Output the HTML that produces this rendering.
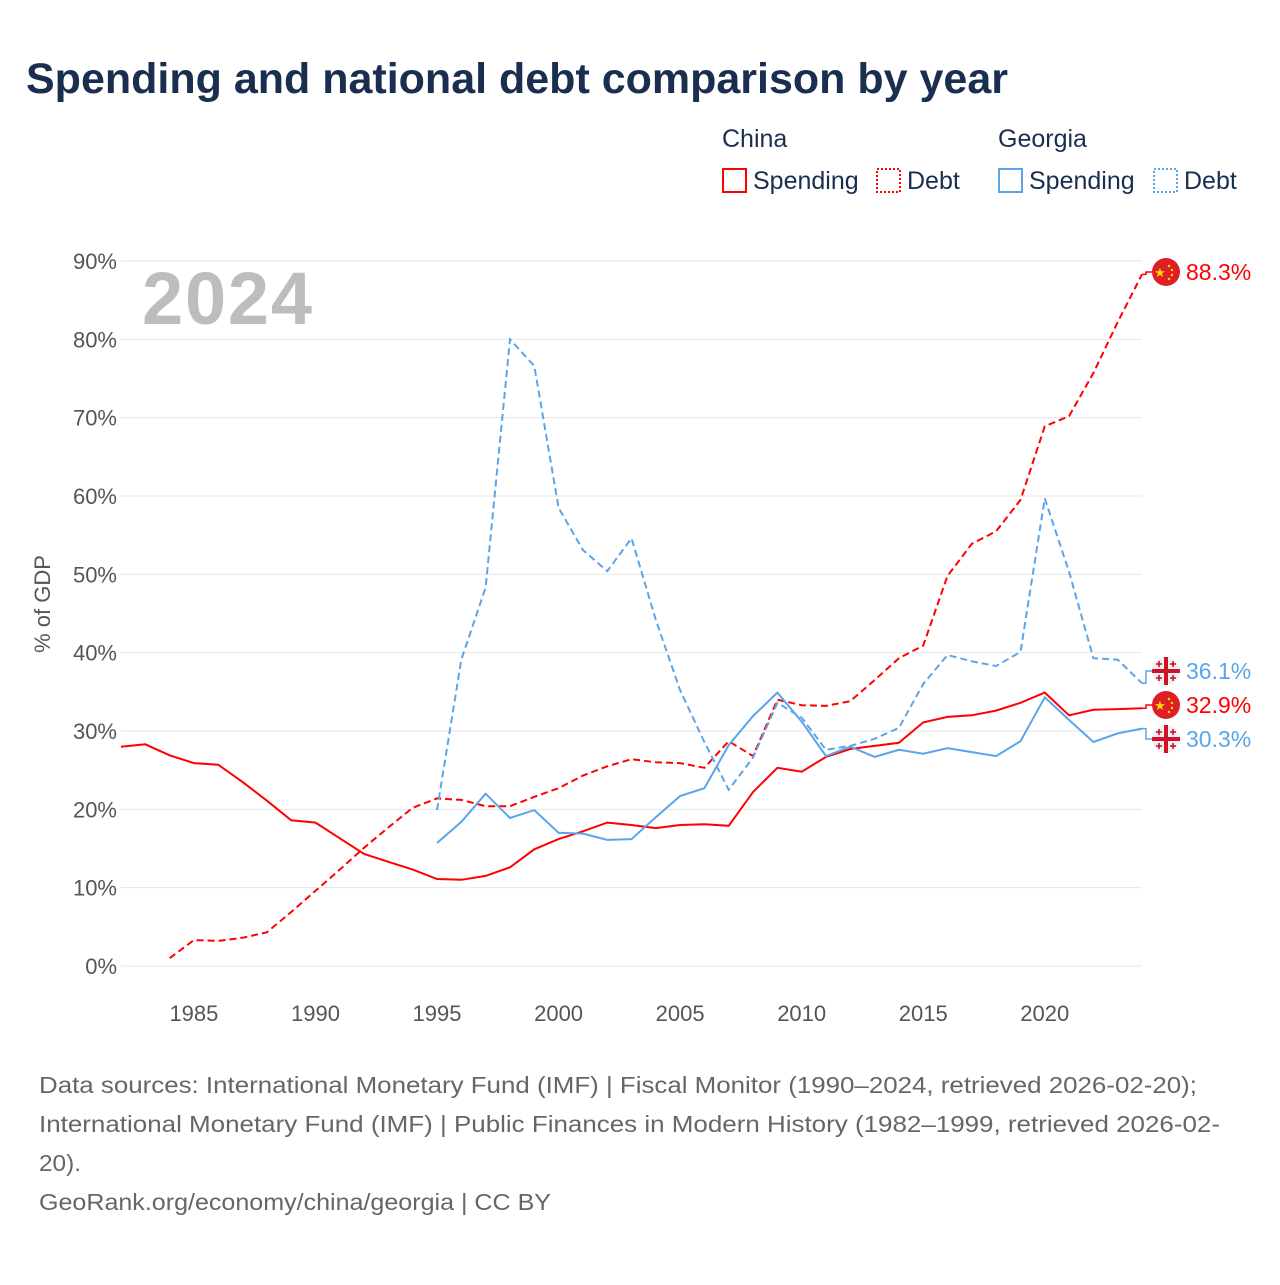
<!DOCTYPE html>
<html><head><meta charset="utf-8"><style>
body{margin:0;background:#fff;font-family:"Liberation Sans",sans-serif;}
svg text{font-family:"Liberation Sans",sans-serif;}
</style></head><body>
<svg id="chart" width="1280" height="1280" viewBox="0 0 1280 1280" xmlns="http://www.w3.org/2000/svg">
<text x="26" y="93" font-size="43" font-weight="bold" fill="#1a2e4f">Spending and national debt comparison by year</text>
<g font-size="25" fill="#1a2e4f">
<text x="722" y="147">China</text>
<text x="998" y="147">Georgia</text>
<g><rect x="723" y="169" width="23" height="23" fill="none" stroke="#ff0000" stroke-width="2"/><text x="753" y="189">Spending</text></g>
<g><rect x="877" y="169" width="23" height="23" fill="none" stroke="#ff0000" stroke-width="2" stroke-dasharray="2,2"/><text x="907" y="189">Debt</text></g>
<g><rect x="999" y="169" width="23" height="23" fill="none" stroke="#5aa5ea" stroke-width="2"/><text x="1029" y="189">Spending</text></g>
<g><rect x="1154" y="169" width="23" height="23" fill="none" stroke="#5aa5ea" stroke-width="2" stroke-dasharray="2,2"/><text x="1184" y="189">Debt</text></g>
</g>
<g id="grid"></g>
<text x="142" y="324" font-size="74" font-weight="bold" fill="#bdbdbd" textLength="170">2024</text>
<text transform="translate(50,604) rotate(-90)" text-anchor="middle" font-size="22" fill="#555">% of GDP</text>
<g id="series"></g>
<g id="labels"></g>
<g font-size="23" fill="#666">
<text x="39" y="1093" textLength="1158" lengthAdjust="spacingAndGlyphs">Data sources: International Monetary Fund (IMF) | Fiscal Monitor (1990–2024, retrieved 2026-02-20);</text>
<text x="39" y="1132" textLength="1181" lengthAdjust="spacingAndGlyphs">International Monetary Fund (IMF) | Public Finances in Modern History (1982–1999, retrieved 2026-02-</text>
<text x="39" y="1171" textLength="42" lengthAdjust="spacingAndGlyphs">20).</text>
<text x="39" y="1210" textLength="512" lengthAdjust="spacingAndGlyphs">GeoRank.org/economy/china/georgia | CC BY</text>
</g>
</svg>
<script>
const yTicks=[0,10,20,30,40,50,60,70,80,90];
const xTicks=[1985,1990,1995,2000,2005,2010,2015,2020];
const chinaSpendStart=1982;
const chinaSpending=[28.0,28.3,26.9,25.9,25.7,23.5,21.1,18.6,18.3,16.3,14.3,13.3,12.3,11.1,11.0,11.5,12.6,14.9,16.2,17.2,18.3,18.0,17.6,18.0,18.1,17.9,22.2,25.3,24.8,26.7,27.7,28.1,28.5,31.1,31.8,32.0,32.6,33.6,34.9,32.0,32.7,32.8,32.9];
const chinaDebtStart=1984;
const chinaDebt=[1.0,3.3,3.2,3.6,4.3,6.9,9.6,12.3,15.1,17.7,20.2,21.4,21.2,20.4,20.4,21.6,22.7,24.3,25.5,26.4,26.0,25.9,25.3,28.7,26.8,34.0,33.3,33.2,33.8,36.5,39.3,40.9,49.8,53.9,55.5,59.5,68.9,70.2,75.7,82.2,88.3];
const georgiaStart=1995;
const georgiaSpending=[15.7,18.4,22.0,18.9,19.9,17.0,16.9,16.1,16.2,19.0,21.7,22.7,28.2,31.9,34.9,31.2,26.8,28.0,26.7,27.6,27.1,27.8,27.3,26.8,28.7,34.3,31.4,28.6,29.7,30.3];
const georgiaDebt=[19.9,39.1,48.3,80.0,76.6,58.5,53.1,50.4,54.6,44.2,35.2,28.6,22.5,26.6,33.6,31.7,27.6,28.1,29.0,30.4,36.0,39.7,38.9,38.3,40.1,59.7,50.3,39.3,39.1,36.1];

const NS="http://www.w3.org/2000/svg";
const X=yr=>121+(yr-1982)*(1142-121)/42;
const Y=v=>966-v*(966-261)/90;
function mk(tag,attrs,parent){const e=document.createElementNS(NS,tag);for(const k in attrs)e.setAttribute(k,attrs[k]);parent.appendChild(e);return e;}
const grid=document.getElementById('grid');
yTicks.forEach(t=>{
  const l=mk('line',{x1:121,x2:1142,y1:Y(t),y2:Y(t),stroke:'#e6e6e6','stroke-width':1},grid);
  
  
  const tx=mk('text',{x:117,y:Y(t)+8,'text-anchor':'end','font-size':22,fill:'#555'},grid);
  tx.textContent=t+'%';
  
  
});
xTicks.forEach(t=>{
  const tx=mk('text',{x:X(t),y:1021,'text-anchor':'middle','font-size':22,fill:'#555'},grid);
  tx.textContent=t;
  
  
});
const sg=document.getElementById('series');
function line(arr,start,color,dash,name){
  const d=arr.map((v,i)=>(i?'L':'M')+X(start+i).toFixed(1)+','+Y(v).toFixed(1)).join('');
  const p=mk('path',{d:d,fill:'none',stroke:color,'stroke-width':2,'stroke-dasharray':dash},sg);
  
  
}
line(chinaSpending,chinaSpendStart,'#ff0000','none','china-spending-line');
line(chinaDebt,chinaDebtStart,'#ff0000','7,4','china-debt-line');
line(georgiaSpending,georgiaStart,'#5aa5ea','none','georgia-spending-line');
line(georgiaDebt,georgiaStart,'#5aa5ea','7,4','georgia-debt-line');

const lg=document.getElementById('labels');
function flag(cx,cy,type,parent){
  if(type==='cn'){
    mk('circle',{cx:cx,cy:cy,r:14,fill:'#de1f26'},parent);
    mk('text',{x:cx-6,y:cy+5,'font-size':13,fill:'#ffde00','text-anchor':'middle'},parent).textContent='★';
    mk('circle',{cx:cx+3,cy:cy-6,r:1.2,fill:'#ffde00'},parent);
    mk('circle',{cx:cx+6,cy:cy-2,r:1.2,fill:'#ffde00'},parent);
    mk('circle',{cx:cx+6,cy:cy+3,r:1.2,fill:'#ffde00'},parent);
    mk('circle',{cx:cx+3,cy:cy+7,r:1.2,fill:'#ffde00'},parent);
  } else {
    mk('circle',{cx:cx,cy:cy,r:14,fill:'#f0f0f0'},parent);
    mk('rect',{x:cx-14,y:cy-2,width:28,height:4,fill:'#d0112b'},parent);
    mk('rect',{x:cx-2,y:cy-14,width:4,height:28,fill:'#d0112b'},parent);
    [[-7,-7],[7,-7],[-7,7],[7,7]].forEach(([dx,dy])=>{
      mk('rect',{x:cx+dx-3,y:cy+dy-0.8,width:6,height:1.6,fill:'#d0112b'},parent);
      mk('rect',{x:cx+dx-0.8,y:cy+dy-3,width:1.6,height:6,fill:'#d0112b'},parent);
    });
  }
}
function endLabel(v,ly,type,color,name){
  const g=mk('g',{},lg);
  
  
  const yv=Y(v);
  mk('path',{d:`M1142,${yv}L1146,${yv}L1146,${ly}L1152,${ly}`,fill:'none',stroke:color,'stroke-width':1.5},g);
  flag(1166,ly,type,g);
  const t=mk('text',{x:1186,y:ly+8,'font-size':23,fill:color},g);
  t.textContent=v.toFixed(1)+'%';
}
endLabel(chinaDebt[chinaDebt.length-1],272,'cn','#ff0000','label-china-debt');
endLabel(georgiaDebt[georgiaDebt.length-1],671,'ge','#5aa5ea','label-georgia-debt');
endLabel(chinaSpending[chinaSpending.length-1],705,'cn','#ff0000','label-china-spending');
endLabel(georgiaSpending[georgiaSpending.length-1],739,'ge','#5aa5ea','label-georgia-spending');
</script>
</body></html>
